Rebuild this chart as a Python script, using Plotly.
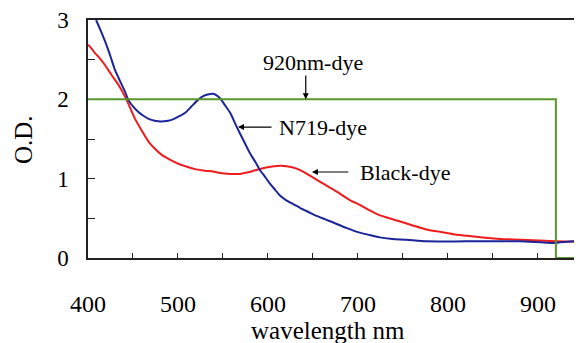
import plotly.graph_objects as go

# N719-dye spectrum (nm, O.D.)
n719_wl = [409, 414, 419, 425, 430, 436, 441, 445, 450, 456, 462, 468, 474, 481, 489, 495, 502, 508, 515, 522, 528, 533, 539, 543, 547, 552, 558, 565, 572, 580, 586, 591, 597, 602, 608, 613, 620, 628, 636, 645, 654, 663, 672, 687, 702, 713, 724, 738, 754, 776, 820, 880, 917, 939, 950]
n719_od = [3.0, 2.87, 2.73, 2.54, 2.37, 2.22, 2.10, 1.99, 1.91, 1.84, 1.79, 1.75, 1.73, 1.72, 1.73, 1.75, 1.79, 1.83, 1.91, 1.99, 2.04, 2.06, 2.07, 2.05, 2.01, 1.93, 1.83, 1.66, 1.50, 1.32, 1.21, 1.11, 1.02, 0.94, 0.86, 0.79, 0.73, 0.68, 0.63, 0.58, 0.53, 0.49, 0.45, 0.38, 0.32, 0.29, 0.26, 0.24, 0.23, 0.21, 0.21, 0.21, 0.19, 0.21, 0.20]

# Black-dye spectrum
black_wl = [400, 404, 408, 413, 419, 426, 434, 443, 452, 460, 467, 474, 482, 491, 500, 510, 519, 530, 539, 547, 558, 569, 578, 587, 598, 610, 618, 624, 631, 639, 648, 658, 667, 676, 691, 702, 713, 724, 735, 747, 761, 776, 791, 806, 821, 836, 858, 882, 920, 950]
black_od = [2.69, 2.64, 2.58, 2.52, 2.43, 2.31, 2.18, 1.99, 1.76, 1.60, 1.47, 1.38, 1.30, 1.24, 1.19, 1.15, 1.12, 1.10, 1.09, 1.07, 1.06, 1.06, 1.08, 1.11, 1.14, 1.16, 1.16, 1.15, 1.13, 1.09, 1.03, 0.96, 0.90, 0.84, 0.73, 0.67, 0.60, 0.54, 0.50, 0.46, 0.41, 0.36, 0.33, 0.30, 0.28, 0.26, 0.24, 0.23, 0.21, 0.20]

# 920nm-dye (idealised step)
dye920_wl = [400, 920, 920, 950]
dye920_od = [2, 2, 0, 0]

x_tick_vals = [400, 450, 500, 550, 600, 650, 700, 750, 800, 850, 900]
x_tick_text = ["400", "", "500", "", "600", "", "700", "", "800", "", "900"]
y_tick_vals = [0, 0.5, 1, 1.5, 2, 2.5, 3]
y_tick_text = ["0", "", "1", "", "2", "", "3"]

FONT = "Liberation Serif"

fig = go.Figure()
fig.add_trace(go.Scatter(x=black_wl, y=black_od, mode="lines",
                         line=dict(color="#ee1c1c", width=2, shape="spline", smoothing=0.6),
                         name="Black-dye"))
fig.add_trace(go.Scatter(x=n719_wl, y=n719_od, mode="lines",
                         line=dict(color="#1c249a", width=2, shape="spline", smoothing=0.6),
                         name="N719-dye"))
fig.add_trace(go.Scatter(x=dye920_wl, y=dye920_od, mode="lines",
                         line=dict(color="#5a962e", width=2), name="920nm-dye"))

fig.update_layout(
    width=574, height=335,
    margin=dict(l=80, r=0, t=12, b=85),
    paper_bgcolor="white", plot_bgcolor="white",
    showlegend=False,
    font=dict(family=FONT, size=22, color="black"),
)
fig.update_xaxes(range=[400, 949], tickvals=x_tick_vals, ticktext=x_tick_text,
                 ticks="inside", ticklen=5, tickwidth=1.2, tickcolor="#222",
                 showline=True, linecolor="#222", linewidth=1.5, mirror=True,
                 showgrid=False, zeroline=False, layer="below traces",
                 tickfont=dict(family=FONT, size=24), ticklabelstandoff=23)
fig.update_yaxes(range=[0, 3], tickvals=y_tick_vals, ticktext=y_tick_text,
                 ticks="inside", ticklen=7, tickwidth=1.2, tickcolor="#222",
                 showline=True, linecolor="#222", linewidth=1.5,
                 showgrid=False, zeroline=False, layer="below traces",
                 tickfont=dict(family=FONT, size=23), ticklabelstandoff=13)

# axis titles
fig.add_annotation(text="wavelength nm", xref="paper", yref="paper", x=0.486, y=-0.305,
                   xanchor="center", yanchor="middle", showarrow=False,
                   font=dict(family=FONT, size=25))
fig.add_annotation(text="O.D.", xref="paper", yref="paper", x=-0.1316, y=0.5,
                   xanchor="center", yanchor="middle", showarrow=False, textangle=-90,
                   font=dict(family=FONT, size=25))

# labels
lab = dict(family=FONT, size=22)
fig.add_annotation(text="920nm-dye", x=650, y=2.47, showarrow=False,
                   xanchor="center", yanchor="middle", font=lab)
fig.add_annotation(text="N719-dye", x=610, y=1.65, showarrow=False,
                   xanchor="left", yanchor="middle", font=lab)
fig.add_annotation(text="Black-dye", x=700, y=1.084, showarrow=False,
                   xanchor="left", yanchor="middle", font=lab)

# arrows
arrow = dict(text="", showarrow=True, arrowhead=2, arrowsize=1, arrowwidth=1.2,
             arrowcolor="black", axref="x", ayref="y")
fig.add_annotation(x=642, y=2.0, ax=642, ay=2.32, **arrow)
fig.add_annotation(x=566.7, y=1.65, ax=605.6, ay=1.65, **arrow)
fig.add_annotation(x=648.9, y=1.084, ax=691, ay=1.084, **arrow)

fig.write_html("out.html")
